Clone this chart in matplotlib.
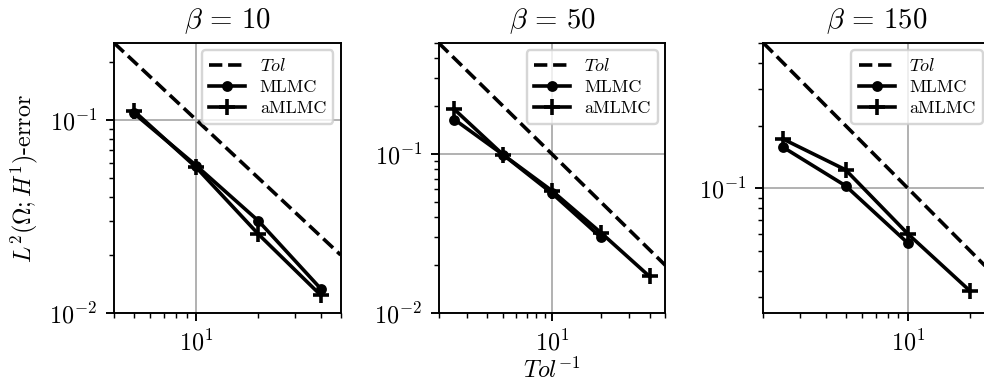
import matplotlib
matplotlib.use("Agg")
import matplotlib.pyplot as plt
import numpy as np

# Fuente tipo LaTeX (Computer Modern)
plt.rcParams['font.family'] = 'serif'
plt.rcParams['font.serif'] = ['cmr10', 'DejaVu Serif']
plt.rcParams['mathtext.fontset'] = 'cm'
plt.rcParams['axes.formatter.use_mathtext'] = True
plt.rcParams['axes.unicode_minus'] = False
plt.rcParams['font.size'] = 10

# Datos por panel
betas = [10, 50, 150]

x_mlmc_10 = [5, 10, 20, 40]
y_mlmc_10 = [0.108, 0.058, 0.030, 0.0134]
x_amlmc_10 = [5, 10, 20, 40]
y_amlmc_10 = [0.111, 0.0567, 0.0256, 0.0124]

x_mlmc_50 = [2.5, 5, 10, 20]
y_mlmc_50 = [0.165, 0.099, 0.0567, 0.030]
x_amlmc_50 = [2.5, 5, 10, 20, 40]
y_amlmc_50 = [0.191, 0.099, 0.0588, 0.0321, 0.0170]

x_mlmc_150 = [2.5, 5, 10]
y_mlmc_150 = [0.157, 0.1026, 0.0544]
x_amlmc_150 = [2.5, 5, 10, 20]
y_amlmc_150 = [0.172, 0.1225, 0.0603, 0.032]

paneles = [
    (x_mlmc_10, y_mlmc_10, x_amlmc_10, y_amlmc_10, (4, 50), (0.01, 0.25)),
    (x_mlmc_50, y_mlmc_50, x_amlmc_50, y_amlmc_50, (2, 50), (0.01, 0.5)),
    (x_mlmc_150, y_mlmc_150, x_amlmc_150, y_amlmc_150, (2, 25), (0.025, 0.5)),
]

fig, axes = plt.subplots(1, 3, figsize=(984 / 173, 387 / 173), dpi=173)
plt.subplots_adjust(left=0.1159, right=1.006, bottom=0.191, top=0.889, wspace=0.433)

for ax, beta, (xm, ym, xa, ya, xl, yl) in zip(axes, betas, paneles):
    tol = np.array([xl[0], xl[1]])
    ax.loglog(tol, 1 / tol, 'k--', linewidth=1.5, label='$Tol$')
    ax.loglog(xm, ym, 'k-', marker='o', markersize=3.5, linewidth=1.5, label='MLMC')
    ax.loglog(xa, ya, 'k-', marker='+', markersize=6.5, markeredgewidth=1.5,
              linewidth=1.5, label='aMLMC')
    ax.set_xlim(xl)
    ax.set_ylim(yl)
    ax.grid(True, which='major')
    ax.set_title(rf'$\beta\,=\,{beta}$')
    ax.legend(loc='upper right', fontsize=7.5, borderaxespad=0.4, labelspacing=0.3)

axes[0].set_ylabel(r'$L^2(\Omega;H^1)$-error')
axes[1].set_xlabel(r'$Tol^{-1}$', labelpad=1)

plt.savefig('out.png', dpi=173)
